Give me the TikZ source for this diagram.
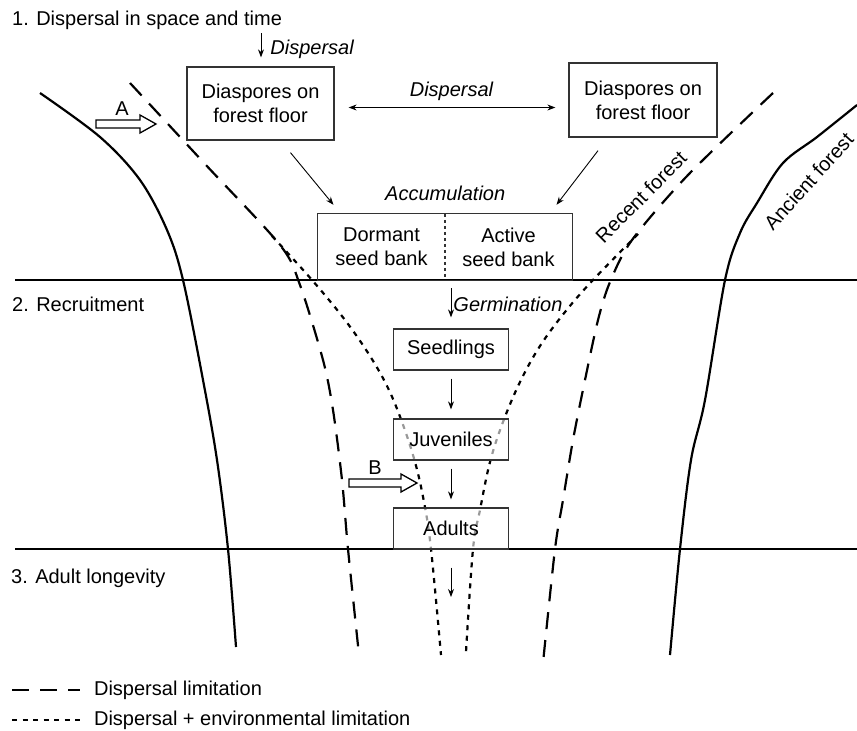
\documentclass[tikz,border=0pt]{standalone}
\usepackage{fontspec}
\setmainfont{Liberation Sans}
\usetikzlibrary{arrows.meta,positioning}
\newcommand\figfont{\fontsize{20}{24}\selectfont}
\begin{document}
\begin{tikzpicture}[x=1pt,y=-1pt,>={Stealth[length=8pt,width=6pt]},font=\figfont,inner sep=2pt,
    box/.style={draw=black!80,line width=1.3pt,fill=white,fill opacity=.6,text opacity=1,align=center,minimum width=115pt,minimum height=41pt},
    bank/.style={align=center,minimum width=127pt,minimum height=66pt},
    flow/.style={->,line width=0.9pt},
    divider/.style={line width=1.8pt},
    forest/.style={line width=2.2pt},
    displim/.style={line width=2.2pt,dash pattern=on 17pt off 11pt},
    envlim/.style={line width=2.2pt,dash pattern=on 5pt off 5.5pt},
    pics/hollow/.style={code={\draw[line width=1.3pt] (0,-4) -- (#1-16,-4) -- (#1-16,-9) -- (#1,0) -- (#1-16,9) -- (#1-16,4) -- (0,4) -- cycle;}}]
    \useasboundingbox (0,0) rectangle (857,731);
    \draw[divider] (15,280) -- (857,280);
    \draw[divider] (15,549) -- (857,549);
    \draw[forest] plot[smooth,tension=.55] coordinates {(40,93) (100,137) (140,180) (167,230) (183,280) (203,380) (217,460) (228,549) (236,647)};
    \draw[forest] plot[smooth,tension=.55] coordinates {(857,105) (817,137) (783,163) (757,203) (740,233) (725,280) (705,400) (691,460) (680,549) (670,655)};
    \draw[displim] plot[smooth,tension=.5] coordinates {(130,83) (205,164) (280,245) (300,285) (323,360) (333,410) (342,480) (348,549) (359,655)};
    \draw[displim] plot[smooth,tension=.5] coordinates {(773,93) (688,175) (632,240) (610,282) (598,320) (585,380) (573,440) (563,500) (555,549) (543,663)};
    \draw[envlim] plot[smooth,tension=.6] coordinates {(272,236) (312,280) (345,320) (370,356) (388,388) (402,422) (415,462) (424,502) (431,549) (441,655)};
    \draw[envlim] plot[smooth,tension=.6] coordinates {(638,234) (593,280) (565,312) (540,346) (520,382) (503,422) (490,462) (480,510) (473,549) (466,652)};
    \node[box,minimum width=147pt,minimum height=73pt] (FL) at (260.5,103.5) {Diaspores on\\forest floor};
    \node[box,minimum width=148pt,minimum height=74pt] (FR) at (643,100) {Diaspores on\\forest floor};
    \node[bank] (DB) at (381.5,247) {Dormant\\seed bank};
    \node[bank] (AB) at (508.5,247) {Active\\seed bank};
    \draw[draw=black!80,line width=1.3pt] (DB.north west) rectangle (AB.south east);
    \draw[draw=black!80,line width=1.8pt,dash pattern=on 3pt off 3pt] (DB.north east) -- (DB.south east);
    \node[box] (S) at (451,349.5) {Seedlings};
    \node[box] (J) at (451,439.5) {Juveniles};
    \node[box] (Ad) at (451,528.5) {Adults};
    \coordinate (src) at (261,33);
    \coordinate (sink) at (451,597);
    \draw[flow,shorten >=9pt] (src) -- (src |- FL.north) node[midway,right=7pt,font=\figfont\itshape] {Dispersal};
    \draw[flow,<->,shorten <=14pt,shorten >=13pt] ([yshift=-4pt]FL.east) -- ([yshift=-4pt]FL.east -| FR.west) node[midway,above=4pt,font=\figfont\itshape] {Dispersal};
    \draw[flow] ([shift={(30,12)}]FL.south) -- ([shift={(-48,-9)}]DB.north);
    \draw[flow] ([shift={(-45,13)}]FR.south) -- ([shift={(48,-9)}]AB.north);
    \node[above=11pt of DB.north east,font=\figfont\itshape] (acc) {Accumulation};
    \draw[flow,shorten <=8pt,shorten >=11pt] (S.north |- DB.south) -- (S.north) node[midway,right,font=\figfont\itshape] {Germination};
    \draw[flow,shorten <=8pt,shorten >=9pt] (S) -- (J);
    \draw[flow,shorten <=8pt,shorten >=8pt] (J) -- (Ad);
    \draw[flow,shorten <=18pt] (Ad) -- (sink);
    \pic at (96,124) {hollow=60};
    \node (lA) at (122,109) {A};
    \pic at (349,483) {hollow=68};
    \node (lB) at (375,468) {B};
    \node[rotate=45,anchor=base] (RF) at (646,202) {Recent forest};
    \node[rotate=48,anchor=base] (AF) at (814,186) {Ancient forest};
    \node[anchor=base west] (T1) at (10,25) {1. Dispersal in space and time};
    \node[anchor=base west] (T2) at (10,311) {2. Recruitment};
    \node[anchor=base west] (T3) at (9,583) {3. Adult longevity};
    \draw[displim] (12,690) -- (80,690) node[right=11pt] (L1) {Dispersal limitation};
    \draw[envlim] (12,720) -- (80,720) node[right=11pt] (L2) {Dispersal + environmental limitation};
\end{tikzpicture}
\end{document}
